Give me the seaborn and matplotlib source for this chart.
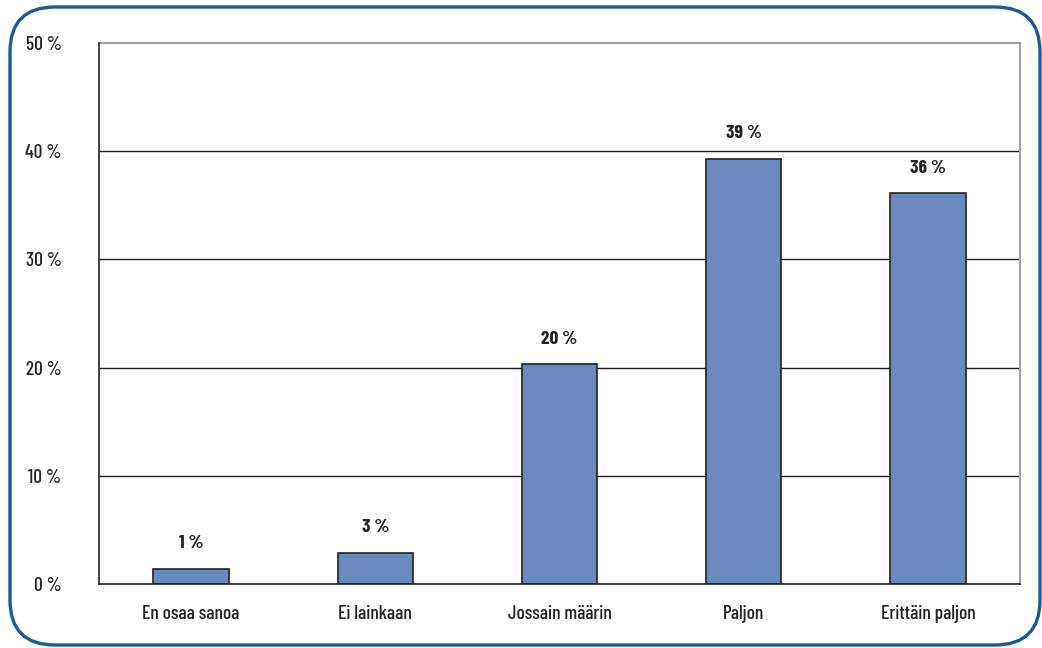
import matplotlib
matplotlib.use("Agg")
import matplotlib.pyplot as plt
import seaborn as sns
import pandas as pd
from matplotlib.patches import FancyBboxPatch

# Data
categories = ["En osaa sanoa", "Ei lainkaan", "Jossain määrin", "Paljon", "Erittäin paljon"]
values = [1.4, 2.9, 20.3, 39.3, 36.1]
labels = ["1 %", "3 %", "20 %", "39 %", "36 %"]
yticks = [0, 10, 20, 30, 40, 50]

sns.set_style("white")
plt.rcParams['font.family'] = ['Barlow Condensed', 'Roboto Condensed', 'DejaVu Sans']

df = pd.DataFrame({"category": categories, "value": values})

W, H = 1042, 648
fig = plt.figure(figsize=(W / 100, H / 100), dpi=100)
ax = fig.add_axes([99 / W, 64 / H, 921 / W, 541 / H])

sns.barplot(data=df, x="category", y="value", order=categories, color="#6a8bbf",
            saturation=1, width=0.41, edgecolor="#222222", linewidth=1.2, ax=ax, zorder=3)

ax.set_ylim(0, 50)
ax.set_xlim(-0.5, len(categories) - 0.5)
ax.set_yticks(yticks)
ax.set_yticklabels([f"{t} %" for t in yticks], fontsize=14, fontweight="medium")
ax.set_xlabel("")
ax.set_ylabel("")

# gridlines
for t in yticks[1:-1]:
    ax.axhline(t, color="#222222", linewidth=1.0, zorder=1)

# spines
for s in ["left", "bottom"]:
    ax.spines[s].set_color("#222222")
    ax.spines[s].set_linewidth(1.2)
    ax.spines[s].set_zorder(4)
for s in ["top", "right"]:
    ax.spines[s].set_color("#a0a0a0")
    ax.spines[s].set_linewidth(1.5)

# x ticks at category boundaries
ax.set_xticks(range(len(categories)))
ax.set_xticklabels(categories, fontsize=14, fontweight="medium")
ax.tick_params(axis="x", length=0, pad=15)
ax.set_xticks([i - 0.5 for i in range(len(categories) + 1)], minor=True)
ax.tick_params(axis="x", which="minor", length=7, width=1.2, color="#222222", direction="out")
ax.tick_params(axis="y", length=6, width=1.2, color="#222222", direction="out", pad=21)
ax.tick_params(axis="both", labelcolor="#222222")

# value labels
for i, (v, lab) in enumerate(zip(values, labels)):
    ax.annotate(lab, (i, v), xytext=(0, 18), textcoords="offset points",
                ha="center", va="center", fontsize=14, fontweight="bold", color="#222222")

# rounded blue frame
r = 45 / W
frame = FancyBboxPatch((10 / W, 3 / H), 1030 / W, 638 / H,
                       boxstyle=f"round,pad=0,rounding_size={r}",
                       mutation_aspect=W / H, transform=fig.transFigure,
                       fill=False, edgecolor="#1a5a9a", linewidth=2.4)
fig.patches.append(frame)

fig.savefig("out.png", dpi=100)
